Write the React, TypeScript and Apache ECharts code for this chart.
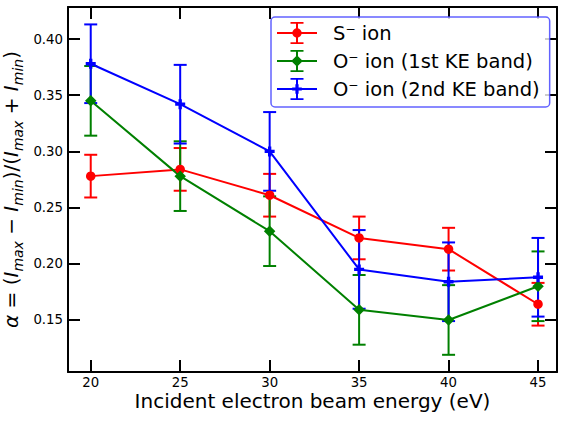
import React, { useEffect, useRef } from "react";
import * as echarts from "echarts";

const energies = [20, 25, 30, 35, 40, 45];
const sIon = [0.278, 0.284, 0.261, 0.223, 0.213, 0.164];
const sErr = [0.019, 0.019, 0.019, 0.019, 0.019, 0.019];
const oIon1 = [0.345, 0.278, 0.229, 0.159, 0.150, 0.180];
const oErr1 = [0.031, 0.031, 0.031, 0.031, 0.031, 0.031];
const oIon2 = [0.378, 0.342, 0.300, 0.195, 0.184, 0.188];
const oErr2 = [0.035, 0.035, 0.035, 0.035, 0.035, 0.035];
const xTicks = [20, 25, 30, 35, 40, 45];
const yTicks = [0.15, 0.2, 0.25, 0.3, 0.35, 0.4];
const names = ["S\u207B ion", "O\u207B ion (1st KE band)", "O\u207B ion (2nd KE band)"];
const colors = ["#ff0000", "#008000", "#0000ff"];

const FONT = "DejaVu Sans";

const baseIcon =
  "M0 10H40V12H0Z M19 0H21V22H19Z M13.5 0H26.5V1.8H13.5Z M13.5 20.2H26.5V22H13.5Z ";
const circleIcon = "path://" + baseIcon + "M15.3 11A4.7 4.7 0 1 1 24.7 11A4.7 4.7 0 1 1 15.3 11Z";
const diamondIcon = "path://" + baseIcon + "M20 5.2L25.8 11L20 16.8L14.2 11Z";
const plusIcon =
  "path://" + baseIcon + "M18.4 6.2H21.6V9.4H24.8V12.6H21.6V15.8H18.4V12.6H15.2V9.4H18.4Z";
const plusSymbol = "path://M3 0H6V3H9V6H6V9H3V6H0V3H3Z";

function errSeries(name: string, color: string, vals: number[], errs: number[]) {
  return {
    type: "custom",
    name: name + "_err",
    coordinateSystem: "cartesian2d",
    xAxisIndex: 0,
    yAxisIndex: 0,
    clip: false,
    encode: { x: 0, y: 1 },
    data: energies.map((x, i) => [x, vals[i], errs[i]]),
    renderItem: (_p: any, api: any) => {
      const x = api.value(0);
      const y = api.value(1);
      const e = api.value(2);
      const t = api.coord([x, y + e]);
      const b = api.coord([x, y - e]);
      const st = { stroke: color, lineWidth: 2 };
      const hw = 6.5;
      return {
        type: "group",
        children: [
          { type: "line", shape: { x1: t[0], y1: t[1], x2: b[0], y2: b[1] }, style: st },
          { type: "line", shape: { x1: t[0] - hw, y1: t[1], x2: t[0] + hw, y2: t[1] }, style: st },
          { type: "line", shape: { x1: b[0] - hw, y1: b[1], x2: b[0] + hw, y2: b[1] }, style: st },
        ],
      };
    },
  };
}

function lineSeries(name: string, color: string, vals: number[], symbol: string, size: number) {
  return {
    type: "line",
    name,
    xAxisIndex: 0,
    yAxisIndex: 0,
    data: energies.map((x, i) => [x, vals[i]]),
    symbol,
    symbolSize: size,
    showAllSymbol: true,
    itemStyle: { color },
    lineStyle: { color, width: 2 },
    clip: false,
  };
}

const X_MIN = 18.73;
const X_MAX = 46.06;
const Y_MIN = 0.1037;
const Y_MAX = 0.4285;

export default function App() {
  const ref = useRef<HTMLDivElement>(null);
  useEffect(() => {
    if (!ref.current) return;
    const chart = echarts.init(ref.current, null, { renderer: "svg" });
    const axisLine = { show: true, onZero: false, lineStyle: { color: "#000", width: 2 } };
    const tick = { show: true, inside: true, length: 12, lineStyle: { color: "#000", width: 2 } };
    const ylabel =
      "{g|\u03B1}{a| = (}{i|I}{s|max}{a| \u2212 }{i|I}{s|min}{a|)/(}{i|I}{s|max}{a| + }{i|I}{s|min}{a|)}";
    chart.setOption({
      animation: false,
      textStyle: { fontFamily: FONT },
      grid: { left: 68, right: 10, top: 7, bottom: 50, containLabel: false, outerBoundsMode: "none" },
      legend: {
        show: true,
        orient: "vertical",
        left: 271,
        top: 17,
        padding: [5, 10, 7, 6],
        itemWidth: 40,
        itemHeight: 22,
        itemGap: 6,
        borderColor: "rgba(70,70,255,0.85)",
        borderWidth: 1.5,
        borderRadius: 4,
        backgroundColor: "rgba(255,255,255,0.8)",
        textStyle: { fontFamily: FONT, fontSize: 19.5, color: "#000", padding: [0, 0, 0, 11] },
        itemStyle: { borderWidth: 0 },
        data: [
          { name: names[0], icon: circleIcon },
          { name: names[1], icon: diamondIcon },
          { name: names[2], icon: plusIcon },
        ],
      },
      xAxis: [
        {
          type: "value",
          min: X_MIN,
          max: X_MAX,
          position: "bottom",
          axisLine,
          axisTick: { ...tick, customValues: xTicks },
          axisLabel: {
            show: true,
            customValues: xTicks,
            margin: 4,
            color: "#000",
            fontSize: 13.3,
            fontFamily: FONT,
            formatter: (v: number) => String(v),
          },
          splitLine: { show: false },
          name: "Incident electron beam energy (eV)",
          nameLocation: "middle",
          nameGap: 19,
          nameMoveOverlap: false,
          nameTextStyle: { fontSize: 20, color: "#000", fontFamily: FONT, verticalAlign: "top" },
        },
        {
          type: "value",
          min: X_MIN,
          max: X_MAX,
          position: "top",
          axisLine,
          axisTick: { ...tick, customValues: xTicks },
          axisLabel: { show: false },
          splitLine: { show: false },
        },
      ],
      yAxis: [
        {
          type: "value",
          min: Y_MIN,
          max: Y_MAX,
          position: "left",
          axisLine,
          axisTick: { ...tick, customValues: yTicks },
          axisLabel: {
            show: true,
            customValues: yTicks,
            margin: 5,
            color: "#000",
            fontSize: 13.3,
            fontFamily: FONT,
            formatter: (v: number) => v.toFixed(2),
          },
          splitLine: { show: false },
          name: ylabel,
          nameLocation: "middle",
          nameRotate: 90,
          nameGap: 43,
          nameMoveOverlap: false,
          nameTextStyle: {
            color: "#000",
            fontFamily: FONT,
            rich: {
              g: { fontSize: 20, fontStyle: "italic", fontFamily: FONT, lineHeight: 28, verticalAlign: "middle", color: "#000" },
              a: { fontSize: 20, fontFamily: FONT, lineHeight: 28, verticalAlign: "middle", color: "#000" },
              i: { fontSize: 20, fontStyle: "italic", fontFamily: FONT, lineHeight: 28, verticalAlign: "middle", color: "#000" },
              s: { fontSize: 14, fontStyle: "italic", fontFamily: FONT, lineHeight: 28, verticalAlign: "bottom", color: "#000" },
            },
          },
        },
        {
          type: "value",
          min: Y_MIN,
          max: Y_MAX,
          position: "right",
          axisLine,
          axisTick: { ...tick, customValues: yTicks },
          axisLabel: { show: false },
          splitLine: { show: false },
        },
      ],
      series: [
        errSeries(names[0], colors[0], sIon, sErr),
        lineSeries(names[0], colors[0], sIon, "circle", 9.5),
        errSeries(names[1], colors[1], oIon1, oErr1),
        lineSeries(names[1], colors[1], oIon1, "diamond", 11.5),
        errSeries(names[2], colors[2], oIon2, oErr2),
        lineSeries(names[2], colors[2], oIon2, plusSymbol, 10),
      ],
    });
    return () => chart.dispose();
  }, []);
  return (
    <div
      ref={ref}
      style={{ position: "absolute", left: 0, top: 0, width: 567, height: 422, background: "#fff" }}
    />
  );
}
